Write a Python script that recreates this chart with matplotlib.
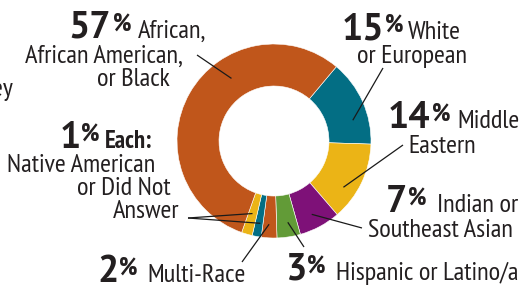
import numpy as np
import matplotlib
matplotlib.use("Agg")
import matplotlib.pyplot as plt

# ---- data ----
categories = ["White or European", "Middle Eastern", "Indian or Southeast Asian",
              "Hispanic or Latino/a", "Multi-Race", "Native American",
              "Did Not Answer", "African, African American, or Black"]
values = [14.4, 13.2, 6.9, 3.9, 2.6, 1.5, 1.8, 55.7]
colors = ["#036E84", "#EBB416", "#7E1178", "#629B37", "#C0561B", "#036E84",
          "#EBB416", "#C0561B"]
pct_labels = ["15", "14", "7", "3", "2", "1", "1", "57"]

W, H = 523, 285
fig = plt.figure(figsize=(W / 100, H / 100), dpi=100)
ax = fig.add_axes([0, 0, 1, 1])

CX, CY, R, RW = 274, H - 141, 97, 42
START = 90 - 40  # first wedge begins 40 deg clockwise from top
wedges, _ = ax.pie(values, colors=colors, startangle=START, counterclock=False,
                   center=(CX, CY), radius=R,
                   wedgeprops=dict(width=RW, edgecolor="white", linewidth=0.4))
ax.set_xlim(0, W)
ax.set_ylim(0, H)
ax.set_aspect("auto")
ax.axis("off")

REG = ["PT Sans Narrow", "DejaVu Sans"]
BOLD = ["PT Sans", "DejaVu Sans"]
TXT = "#231F20"
FS = 19


def T(x, y, s, size=FS, family=REG, weight="normal", ha="left"):
    ax.text(x, H - y, s, fontsize=size, family=family, weight=weight,
            color=TXT, ha=ha, va="baseline")


def pct(x, y, num, x_pct):
    T(x, y, num, 27, BOLD, "bold")
    ax.text(x_pct, H - y + 7, "%", fontsize=18.5, family=REG, weight="bold",
            color=TXT, ha="left", va="baseline")


def anchor(i, frac, rf):
    w = wedges[i]
    th = np.deg2rad(w.theta1 + frac * (w.theta2 - w.theta1))
    return CX + rf * R * np.cos(th), CY + rf * R * np.sin(th)


def leader(i, frac, rf, x2, y2):
    x1, y1 = anchor(i, frac, rf)
    ax.plot([x1, x2], [y1, H - y2], color="#1a1a1a", lw=0.9,
            solid_capstyle="butt")


# 57% African...
pct(68, 38, pct_labels[7], 113)
T(138, 38, "African,")
T(25, 63, "African American,")
T(97, 86, "or Black")
leader(7, 0.37, 0.78, 197, 55)

# 15% White
pct(342, 39, pct_labels[0], 385)
T(408, 39, "White")
T(357, 63, "or European")
leader(0, 0.32, 0.84, 383, 68)

# 14% Middle Eastern
pct(388, 128, pct_labels[1], 432)
T(457, 128, "Middle")
T(408, 153, "Eastern")
leader(1, 0.33, 0.86, 403, 145)

# 7% Indian
pct(386, 212, pct_labels[2], 408)
T(437, 212, "Indian or")
T(368, 237, "Southeast Asian")
leader(2, 0.46, 0.85, 362, 228)

# 3% Hispanic
pct(285, 280, pct_labels[3], 307)
T(519, 280, "Hispanic or Latino/a", ha="right")
leader(3, 0.56, 0.85, 304, 247)

# 2% Multi-Race
pct(97, 282, pct_labels[4], 119)
T(147, 282, "Multi-Race")
leader(4, 0.45, 0.86, 242, 262)

# 1% Each
pct(60, 148, pct_labels[5], 81)
T(105, 148, "Each:", 18, REG, "bold")
T(7, 172, "Native American")
T(77, 195, "or Did Not")
T(113, 218, "Answer")
leader(5, 0.67, 0.86, 188, 218)
leader(6, 0.46, 0.78, 188, 218)

# clipped text at left edge
ax.text(13, H - 96, "ey", fontsize=FS, family=REG, color=TXT,
        ha="right", va="baseline")

fig.savefig("out.png", dpi=100)
